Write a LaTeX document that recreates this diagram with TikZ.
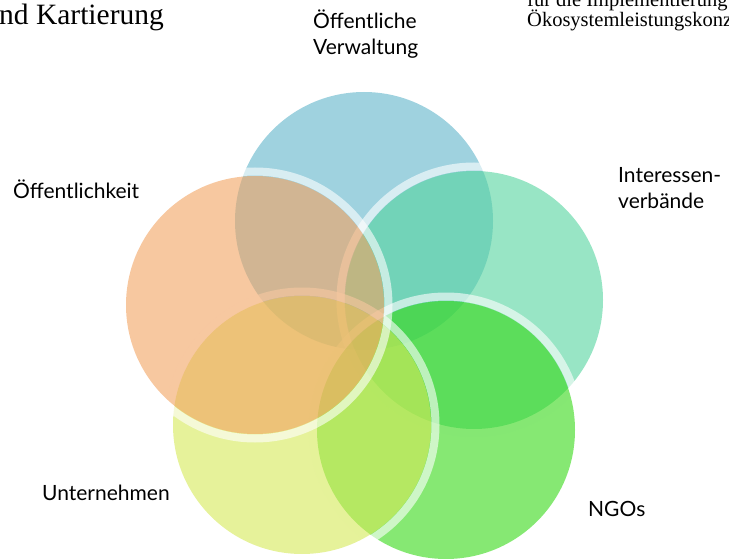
\documentclass[tikz,border=0pt]{standalone}
\usepackage{fontspec}
\setmainfont{Lato}
\newfontfamily\bookfont{Liberation Serif}
\definecolor{cverw}{RGB}{95,180,202}
\definecolor{cverb}{RGB}{84,212,158}
\definecolor{coeff}{RGB}{242,163,97}
\definecolor{cunt}{RGB}{213,233,87}
\definecolor{cngo}{RGB}{53,217,22}
\begin{document}
\begin{tikzpicture}[x=1pt,y=-1pt,line join=round,line cap=round,
 lbl/.style={font=\fontsize{21}{26}\selectfont,inner sep=0pt,align=left,anchor=base west},
 head/.style={font=\bookfont\fontsize{#1}{20}\selectfont,inner sep=0pt,anchor=base west},
 disc/.style={fill=#1,fill opacity=0.6},
 rim/.style={draw=white,draw opacity=0.6,line width=8pt}]
 \def \r{129pt}\def \rr{133.5pt}
 \useasboundingbox (0,0) rectangle (729,559);
 \clip (0,0) rectangle (729,559);
 % Kreise
 \fill[disc=cverw] (364,221) circle[radius=\r];
 \draw[rim] (474,300) circle[radius=\rr];
 \fill[disc=cverb] (474,300) circle[radius=\r];
 \draw[rim] (446,430) circle[radius=\rr];
 \fill[disc=cngo] (446,430) circle[radius=\r];
 \draw[rim] (302,425) circle[radius=\rr];
 \fill[disc=cunt] (302,425) circle[radius=\r];
 \draw[rim] (255,305) circle[radius=\rr];
 \fill[disc=coeff] (255,305) circle[radius=\r];
 % Beschriftung
 \node[lbl] (verw) at (313,55) {Öffentliche\\Verwaltung};
 \node[lbl] (oeff) at (13,199) {Öffentlichkeit};
 \node[lbl] (verb) at (618,208) {Interessen-\\verbände};
 \node[lbl] (untern) at (42,500) {Unternehmen};
 \node[lbl] (ngo) at (588,516) {NGOs};
 % Textreste oben
 \node[head=29.5] (kart) at (-1,25) {nd Kartierung};
 \node[head=20.5] (impl) at (527,7) {für die Implementierung};
 \node[head=20.5] (konz) at (527,27) {Ökosystemleistungskonz};
\end{tikzpicture}
\end{document}
